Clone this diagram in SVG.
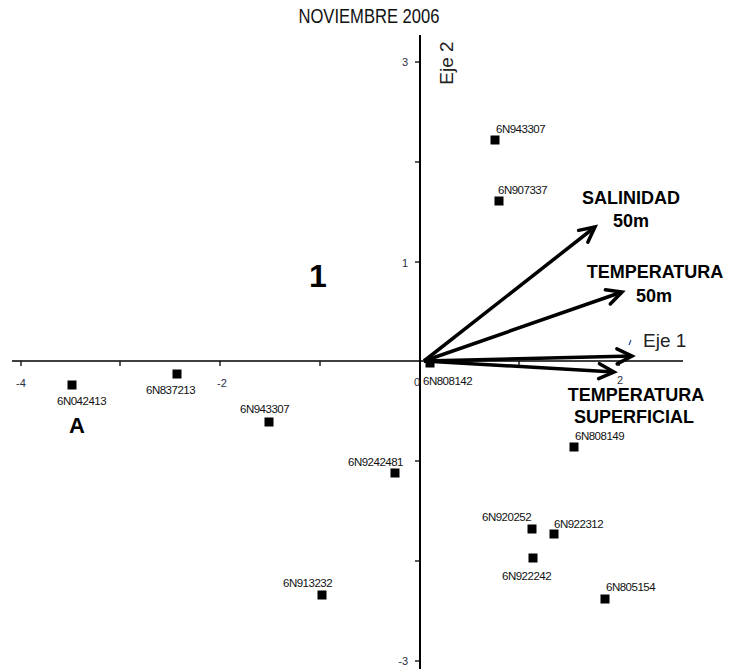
<svg xmlns="http://www.w3.org/2000/svg" width="729" height="669" viewBox="0 0 729 669">
<style>
text{font-family:"Liberation Sans",Arial,sans-serif}
.tick{font-size:11px;fill:#2a2f45}
.pt{font-size:11.5px;fill:#111;letter-spacing:-0.5px}
.big{font-weight:bold;fill:#000}
.var{font-size:18px;font-weight:bold;fill:#000;text-anchor:middle}
.axt{font-size:19px;fill:#222}
.sq{fill:#000}
.arr{stroke:#000;stroke-width:3.5;fill:none;marker-end:url(#ah)}
</style>
<defs>
<marker id="ah" markerUnits="userSpaceOnUse" viewBox="-20 -12 24 24" refX="0" refY="0" markerWidth="24" markerHeight="24" orient="auto">
<path d="M-15,-7.5 L0,0 L-15,7.5" fill="none" stroke="#000" stroke-width="3.5" stroke-linecap="round" stroke-linejoin="miter"/>
</marker>
</defs>
<rect width="729" height="669" fill="#fff"/>
<text x="369" y="23" font-size="20" text-anchor="middle" textLength="141" lengthAdjust="spacingAndGlyphs" fill="#111">NOVIEMBRE 2006</text>
<g id="axes">
<line x1="12" y1="361" x2="683" y2="361" stroke="#000" stroke-width="1.7"/>
<line x1="420" y1="35" x2="420" y2="669" stroke="#000" stroke-width="2"/>
<g stroke="#000" stroke-width="1.3">
<line x1="21" y1="361" x2="21" y2="366"/>
<line x1="120" y1="361" x2="120" y2="366"/>
<line x1="220" y1="361" x2="220" y2="366"/>
<line x1="320" y1="361" x2="320" y2="366"/>
<line x1="519" y1="361" x2="519" y2="366"/>
<line x1="619" y1="361" x2="619" y2="366"/>
<line x1="415" y1="62" x2="420" y2="62"/>
<line x1="415" y1="162" x2="420" y2="162"/>
<line x1="415" y1="262" x2="420" y2="262"/>
<line x1="415" y1="461" x2="420" y2="461"/>
<line x1="415" y1="561" x2="420" y2="561"/>
<line x1="415" y1="661" x2="420" y2="661"/>
</g>
<text class="tick" x="21" y="387" text-anchor="middle">-4</text>
<text class="tick" x="222" y="387" text-anchor="middle">-2</text>
<text class="tick" x="417" y="386" text-anchor="middle">0</text>
<text class="tick" x="620" y="384" text-anchor="middle" font-size="10.5">2</text>
<text class="tick" x="408" y="66" text-anchor="end">3</text>
<text class="tick" x="408" y="267" text-anchor="end">1</text>
<text class="tick" x="408" y="665" text-anchor="end">-3</text>
<text class="axt" transform="translate(453,63) rotate(-90)" text-anchor="middle">Eje 2</text>
<text class="axt" x="643" y="347">Eje 1</text>
<line x1="629" y1="345" x2="631" y2="340" stroke="#2050a0" stroke-width="1.2"/>
</g>
<g id="connectors">
<line class="arr" x1="424" y1="361" x2="595" y2="227"/>
<line class="arr" x1="424" y1="361" x2="622" y2="292"/>
<line class="arr" x1="424" y1="361" x2="632" y2="356"/>
<line class="arr" x1="424" y1="361" x2="614" y2="372"/>
</g>
<g id="var-salinidad"><text class="var" x="631" y="204">SALINIDAD</text><text class="var" x="631" y="227">50m</text></g>
<g id="var-temp50"><text class="var" x="655" y="278">TEMPERATURA</text><text class="var" x="654" y="302">50m</text></g>
<g id="var-tempsup"><text class="var" x="636" y="401">TEMPERATURA</text><text class="var" x="634" y="423">SUPERFICIAL</text></g>
<g id="group-1"><text class="big" x="318" y="287" font-size="32" text-anchor="middle">1</text></g>
<g id="group-A"><text class="big" x="77" y="433" font-size="22" text-anchor="middle">A</text></g>
<g id="p1"><rect class="sq" x="490.5" y="135.5" width="9" height="9"/><text class="pt" x="496" y="133">6N943307</text></g>
<g id="p2"><rect class="sq" x="494.5" y="196.5" width="9" height="9"/><text class="pt" x="498" y="194">6N907337</text></g>
<g id="p3"><rect class="sq" x="67.5" y="380.5" width="9" height="9"/><text class="pt" x="57" y="405">6N042413</text></g>
<g id="p4"><rect class="sq" x="172.5" y="369.5" width="9" height="9"/><text class="pt" x="146" y="394">6N837213</text></g>
<g id="p5"><rect class="sq" x="264.5" y="417.5" width="9" height="9"/><text class="pt" x="240" y="413">6N943307</text></g>
<g id="p6"><rect class="sq" x="390.5" y="468.5" width="9" height="9"/><text class="pt" x="348" y="466">6N9242481</text></g>
<g id="p7"><rect class="sq" x="425.5" y="358.5" width="9" height="9"/><text class="pt" x="423" y="385">6N808142</text></g>
<g id="p8"><rect class="sq" x="569.5" y="442.5" width="9" height="9"/><text class="pt" x="575" y="440">6N808149</text></g>
<g id="p9"><rect class="sq" x="527.5" y="524.5" width="9" height="9"/><text class="pt" x="482" y="521">6N920252</text></g>
<g id="p10"><rect class="sq" x="549.5" y="529.5" width="9" height="9"/><text class="pt" x="554" y="528">6N922312</text></g>
<g id="p11"><rect class="sq" x="528.5" y="553.5" width="9" height="9"/><text class="pt" x="502" y="580">6N922242</text></g>
<g id="p12"><rect class="sq" x="600.5" y="594.5" width="9" height="9"/><text class="pt" x="606" y="591">6N805154</text></g>
<g id="p13"><rect class="sq" x="317.5" y="590.5" width="9" height="9"/><text class="pt" x="283" y="587">6N913232</text></g>
</svg>
